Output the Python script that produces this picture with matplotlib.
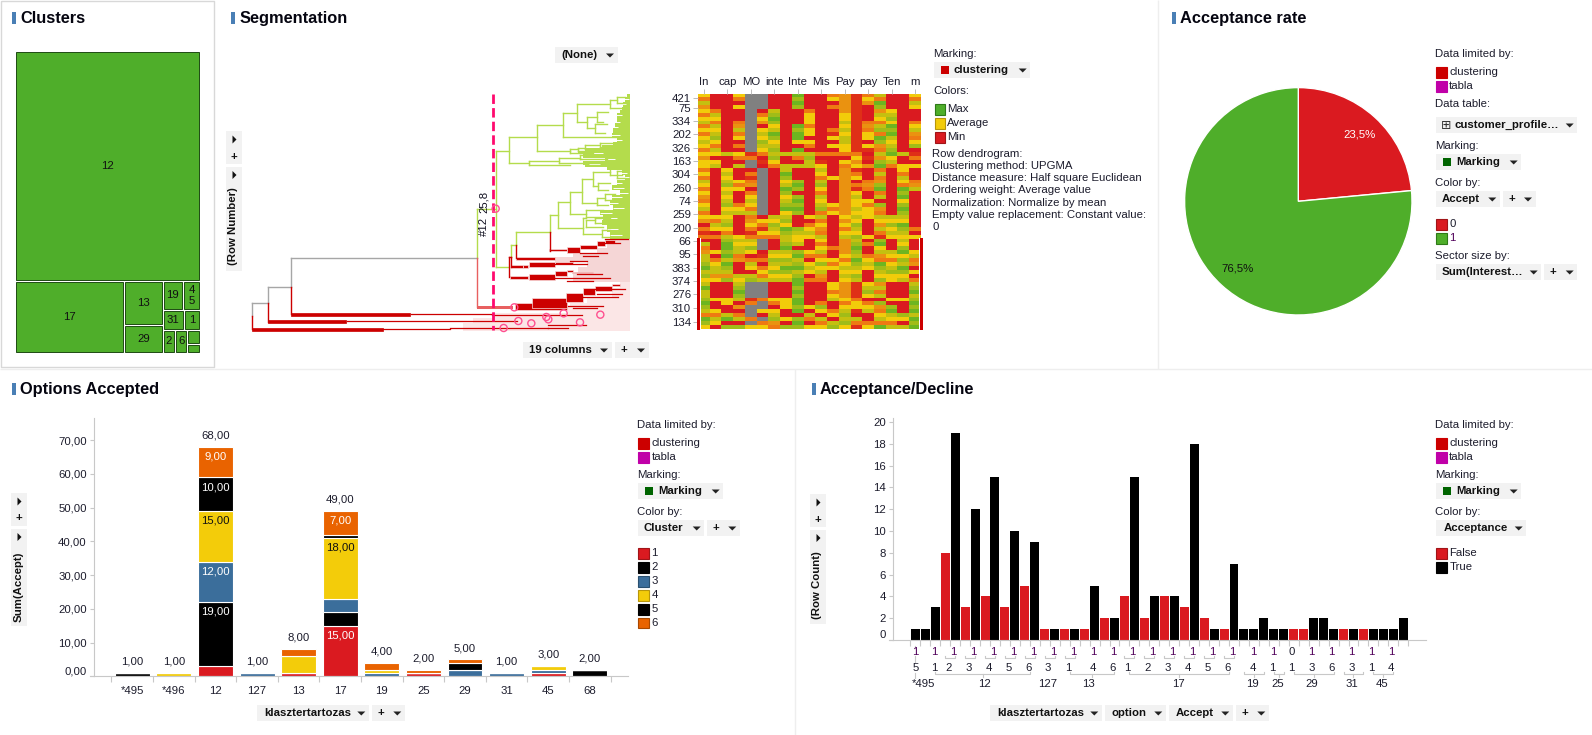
import matplotlib
matplotlib.use("Agg")
import matplotlib.pyplot as plt
import numpy as np
from matplotlib.colors import ListedColormap
from matplotlib.patches import Polygon, Rectangle

plt.rcParams['font.family'] = ['Liberation Sans', 'DejaVu Sans']
plt.rcParams['font.size'] = 8.2

W, H = 1592, 735
RED, BLACK, BLUE, YELLOW, ORANGE, GREEN = '#DA1A20', '#000000', '#3B6E9B', '#F3CC0A', '#E96300', '#4FAE2A'
TXT = '#1c1c2c'

# ---- treemap data
cluster_sizes = {'12': 3816, '17': 704, '13': 155, '29': 95, '19': 54, '45': 43, '31': 38,
                 '1': 28, '2': 26, '6': 25, 'a': 16, 'b': 10}
cluster_tree = ['12', ['17', ['13', '29'], [['19', '45'], ['31', '1'], ['2', '6', ['a', 'b']]]]]

# ---- heatmap data, one string per column, top row first
# R min, E red orange, o orange, D amber, Y yellow, L olive, l yellow green, G green, X empty
heat_cols = [
    "YoLDYoYLoY oYLYoYDYYo YoLYoYDoYL oYDRoEoRLo DLLlGLlYLG LLlGlLoGlY",
    "RRRRoLYoLY LlYoLYRYLR RRRRRRRRRR RYoLYRoRRR YRoYLLDYRR RRYRRYoLYR",
    "RRRRRRRRRR RRRRRLRRRY LYLlYLYLlY LYLlYoLlGG lGLGlLDlRR RRYYRRLGRl",
    "YoRYRRRoDL oYRoRYoRLR RRYoYRRRoY LRRRRRYLYL LoDRRRLYLl GlLRDRoLRl",
    "XXXXXXXXXX XXXXXEoXXR oEoDRoYLYo LoDYoEoLYl YRoLYRLlXX XXEoXXXoXY",
    "XXXXRoYDRY LYlLYoRERX XXXXXXXXXX XRYoEYoXXX REoRoYoLXX XXoXXYRXoY",
    "RRRRLlGlYL GlYLlLlYoR RRRRRRRRRR RLYlLYoRRR LYlLYlYLRR RRYoRYLlDo",
    "RRRRRRRRRR RRRRRLRRLL GlYLGlYLlG YLlYGlLLlG LYlLGlYLRR RRYYYRRYRl",
    "GlGlRRRRGl GGYRGLoRLR RRlGlRlGlG lRRRlLYYLR lGLlGLlGGl GlGGlGRlGl",
    "RRRRoYYYoY YRYoRLlLLR RRRRRRRRRR RYRoYLYRRR YoRYLYRoRR RRRRYRLoRY",
    "RRRRRRRRRR RRRRRoREYL YoLlYoLYLl oLoYDoLYoY LoYlYLDoRR RRRolYRLoY",
    "oYRoRRRRRo EYRYRoRRRR RYRRRRRRYo YRRRRRRRRo RRYoYRRRYY oYLRRoYRLl",
    "DDDDDYYLYL YLLYYoRYoD DDDDDDDDDD DYDYoYLDDD DYoYLYLYDD DDYoYLlLlY",
    "EEEEEEEEEE EEEEEoYDYE oYRoEYLYYL YLYlLYlLlG lLGlLYlLEE EEoYYERLoE",
    "oYDRRRRoDo YYRYERERDR RRoDoRRYoY YYRRRRYRoR RoYLYRRRYL lYRoYLRRoY",
    "LoGlDLYoLl oGlDoLDlGo LoDlGoLRlD oLYDLoElGY LDoGlLYlDL oLRlDoYLoG",
    "RRRRYLlYGl GLYLlGYLoR RRRRRRRRRR RLYlYLYRRR LYoYLlYYRR RRYRlGLYoL",
    "RRRRRRRRRR RRRRRLRRYY oLYoGlGYlG lLYGlLYLYl GYlLGlYLRR RRYRRRlYRL",
    "YoLYRRRoYL DoYlREoRYR RRoDLRRRRR RRRRoRYRRR YLoDRYRoLl GLlGlGLGlG",
]
heat_codes = 'REoDYLlGX'
heat_palette = ['#DA1A20', '#DF3017', '#EE7A12', '#EA9210', '#F2CC0A', '#C4C010', '#A0BC18', '#6DB520', '#808080']
heat_top_labels = ['In', 'cap', 'MO', 'inte', 'Inte', 'Mis', 'Pay', 'pay', 'Ten', 'm']
heat_row_labels = ['421', '75', '334', '202', '326', '163', '304', '260', '74', '259', '200',
                   '66', '95', '383', '374', '276', '310', '134']
heat_row_ticks = [1.0, 3.6, 6.9, 10.2, 13.7, 17.1, 20.4, 23.9, 27.3, 30.6, 34.1,
                  37.5, 40.9, 44.3, 47.7, 51.0, 54.5, 58.1]

# ---- dendrogram data: distance along x, row position along y
# links are (parent distance, upper row, lower row, upper child distance, lower child distance)
green_links = [
    (827, 332, 680, 868, 868), (868, 292, 368, 952, 928), (952, 256, 332, 1028, 1050),
    (1028, 220, 290, 1070, 1200), (1070, 193, 245, 1170, 1102), (1170, 180, 203, 1192, 1215),
    (1192, 172, 190, 1215, 1222), (1102, 230, 265, 1132, 1125), (1132, 215, 245, 1165, 1150),
    (1125, 252, 280, 1160, 1155), (1050, 328, 338, 1073, 1120), (1073, 325, 332, 1095, 1130),
    (1095, 315, 328, 1140, 1200), (1140, 310, 320, 1180, 1200), (928, 362, 375, 1018, 1050),
    (1018, 355, 368, 1080, 1160), (1080, 345, 358, 1130, 1160), (1015, 487, 565, 1051, 1090),
    (1051, 455, 523, 1085, 1098), (1085, 418, 488, 1120, 1130), (1120, 395, 438, 1170, 1135),
    (1170, 385, 405, 1190, 1205), (1190, 393, 415, 1215, 1215), (1135, 430, 450, 1170, 1165),
    (1098, 510, 530, 1150, 1160), (1130, 475, 495, 1155, 1165), (1155, 463, 480, 1185, 1200),
    (1090, 535, 582, 1098, 1145), (1098, 540, 560, 1125, 1150), (1145, 570, 592, 1170, 1190),
    (1125, 533, 550, 1170, 1180),
]
green_stems = [(770, 507, 827, 507), (770, 507, 770, 653), (989, 525, 1015, 525), (989, 525, 989, 577),
               (889, 577, 989, 577), (889, 577, 889, 615), (874, 615, 889, 615), (874, 615, 874, 650)]
grey_stems = [(97, 790, 145, 790), (97, 790, 97, 829), (145, 740, 145, 790), (145, 740, 212, 740),
              (212, 653, 212, 740), (212, 653, 770, 653)]
red_stems = [(97, 829, 97, 868), (145, 790, 145, 845), (212, 740, 212, 823), (989, 577, 989, 632),
             (889, 615, 889, 655), (874, 650, 874, 680), (868, 650, 868, 712), (868, 650, 874, 650)]
salmon_stems = [(770, 653, 770, 802)]
thin_reds = [(490, 690, 868), (690, 985, 865), (380, 890, 844), (572, 815, 823), (815, 1085, 826), (985, 1098, 855),
             (985, 1045, 865), (1045, 1150, 798), (1060, 1130, 805), (1090, 1195, 772), (1125, 1215, 748),
             (1130, 1205, 762), (1005, 1100, 673), (1050, 1100, 664), (1080, 1160, 640), (1090, 1135, 647),
             (1005, 1170, 713), (1070, 1145, 703), (1040, 1120, 722), (1155, 1225, 598), (1150, 1200, 610)]
block_left = [97, 145, 212, 885, 935, 1037, 1090, 1125, 1175, 988, 1040, 1080, 1130, 1155,
              889, 873, 910, 926, 1005, 870, 926, 1005, 1040, 1055]
block_right = [490, 378, 570, 1040, 1040, 1090, 1125, 1175, 1200, 1040, 1080, 1130, 1155, 1185,
               1005, 910, 925, 1005, 1060, 925, 1005, 1040, 1060, 1120]
block_row = [868, 845, 823, 800, 788, 772, 755, 745, 735, 631, 629, 620, 611, 604,
             655, 679, 679, 673, 668, 712, 711, 700, 692, 697]
block_thick = [8, 8, 8, 22, 30, 26, 20, 16, 6, 7, 18, 12, 15, 8, 8, 8, 10, 15, 5, 8, 18, 14, 5, 5]
mass_rows = [162, 172, 185, 200, 210, 220, 235, 250, 265, 280, 295, 305, 315, 323, 335, 343, 353, 363, 375, 381,
             390, 405, 420, 435, 450, 465, 480, 495, 510, 525, 540, 555, 575, 597]
mass_left = [1220, 1215, 1210, 1205, 1200, 1192, 1190, 1185, 1180, 1175, 1190, 1180, 1145, 1095, 1075, 1090, 1155,
             1090, 1095, 1160, 1205, 1215, 1190, 1175, 1200, 1175, 1170, 1180, 1140, 1150, 1145, 1160, 1170, 1185]
slit_rows = [178, 192, 205, 226, 245, 262, 284, 300, 322, 340, 358, 372, 398, 412, 428, 444, 458, 472, 490, 505,
             520, 535, 548, 566, 586]
slit_to = [1226, 1218, 1212, 1205, 1200, 1195, 1200, 1205, 1175, 1150, 1185, 1140, 1222, 1226, 1205, 1212, 1225,
           1205, 1195, 1212, 1175, 1190, 1180, 1195, 1205]
pink_rows = [597, 610, 625, 640, 650, 665, 680, 700, 725]
pink_left = [1185, 1160, 1130, 1060, 1005, 1100, 1075, 1060, 1005]
pale_rows = [727, 745, 770, 790, 800, 820, 835, 850, 873]
pale_left = [1200, 1175, 1100, 1050, 1045, 820, 760, 730, 690]
marker_dist = [827, 883, 1031, 979, 985, 895, 934, 851, 1080, 1141]
marker_row = [506, 802, 820, 831, 838, 843, 850, 864, 847, 824]

# ---- pie data
pie_values = [23.5, 76.5]

# ---- stacked bar data, bottom to top: cluster 1, 2, 3, 4, 5, 6
option_cats = ['*495', '*496', '12', '127', '13', '17', '19', '25', '29', '31', '45', '68']
opt_c1 = [0, 0, 3, 0, 1, 15, 0, 1, 0, 0, 1, 0]
opt_c2 = [1, 0, 19, 0, 0, 4, 0, 0, 0, 0, 0, 2]
opt_c3 = [0, 0, 12, 1, 0, 4, 1, 0, 2, 1, 1, 0]
opt_c4 = [0, 1, 15, 0, 5, 18, 1, 0, 0, 0, 1, 0]
opt_c5 = [0, 0, 10, 0, 0, 1, 0, 0, 2, 0, 0, 0]
opt_c6 = [0, 0, 9, 0, 2, 7, 2, 1, 1, 0, 0, 0]
opt_colors = [RED, BLACK, BLUE, YELLOW, BLACK, ORANGE]

# ---- grouped bar data
decline_counts = [1, 1, 3, 8, 19, 3, 12, 4, 15, 3, 10, 5, 9, 1, 1, 1, 1, 1, 5, 2, 2, 4, 15, 2, 4, 4, 4, 3, 18, 2,
                  1, 1, 7, 1, 1, 2, 1, 1, 1, 1, 2, 2, 1, 1, 1, 1, 1, 1, 1, 2]
decline_flag = list("TTTFTFTFTFTFTFTFTFTFTFTFTFTFTFT" "FT" "TTTTTFFTTTFTFTTTT")
level1_text = list("1111111111111111111" "0" "11111")
level1_pos = [0, 1.87, 3.85, 5.86, 7.86, 9.87, 11.88, 13.82, 15.83, 17.84, 19.85, 21.8, 23.8, 25.8, 27.8, 29.85,
              31.86, 33.9, 35.9, 37.8, 39.8, 41.8, 43.8, 45.8, 47.8]
level2_text = list("5123456314612345641136314")
level2_pos = [0, 1.87, 3.35, 5.36, 7.36, 9.37, 11.38, 13.32, 15.33, 17.84, 19.85, 21.32, 23.33, 25.34, 27.35, 29.36,
              31.37, 33.87, 35.87, 37.8, 39.8, 41.8, 43.8, 45.8, 47.8]
level3_text = ['*495', '12', '127', '13', '17', '19', '25', '29', '31', '45']
level3_pos = [0.8, 6.9, 13.3, 17.4, 26.4, 33.9, 36.4, 39.8, 43.8, 46.9]
pair_starts = [3, 5, 7, 9, 11, 13, 15, 21, 23, 25, 27, 29, 31]
group_from = [2, 15.5, 21.5, 33, 36, 38, 43, 46]
group_to = [11.5, 20, 31.5, 35, 37, 42, 45, 48]


def ax_px(x0, y0, x1, y1, **kw):
    return fig.add_axes([x0 / W, 1 - y1 / H, (x1 - x0) / W, (y1 - y0) / H], **kw)


def label(x, y, s, **kw):
    kw.setdefault('va', 'center')
    kw.setdefault('color', TXT)
    bg.text(x, y, s, **kw)


def arrow(x, y):
    bg.add_patch(Polygon([(x - 4, y - 2), (x + 4, y - 2), (x, y + 2)], color='#222222', lw=0))


def right_arrow(x, y):
    bg.add_patch(Polygon([(x - 2, y - 4), (x - 2, y + 4), (x + 2, y)], color='#111111', lw=0))


def button(x0, x1, y0, text, tx, ax_x, swatch=None):
    bg.add_patch(Rectangle((x0, y0), x1 - x0, 16, color='#F2F2F2', lw=0))
    if swatch:
        bg.add_patch(Rectangle((x0 + 7, y0 + 4), 8, 8, color=swatch, lw=0))
    label(tx, y0 + 8, text, fontweight='bold', color='#111111')
    arrow(ax_x, y0 + 8.5)


def plus_button(x0, x1, y0, px, ax_x):
    bg.add_patch(Rectangle((x0, y0), x1 - x0, 16, color='#F2F2F2', lw=0))
    label(px, y0 + 8, '+', fontweight='bold', ha='center', color='#111111')
    arrow(ax_x, y0 + 8.5)


def swatch(x, y, color, edge=None):
    bg.add_patch(Rectangle((x, y - 5.3), 10.6, 10.6, facecolor=color, edgecolor=edge or color, lw=0.8))


def side_controls(x0, y0, y1, text, ty):
    bg.add_patch(Rectangle((x0, y0), 16, 33, color='#F2F2F2', lw=0))
    bg.add_patch(Rectangle((x0, y0 + 36), 16, y1 - y0 - 36, color='#F2F2F2', lw=0))
    right_arrow(x0 + 8.5, y0 + 8.5)
    label(x0 + 7.5, y0 + 25.5, '+', fontweight='bold', ha='center', color='#111111')
    right_arrow(x0 + 8.5, y0 + 44)
    label(x0 + 7.5, ty, text, fontweight='bold', rotation=90, ha='center', color='#111111')


def title(x, y, s, tx):
    bg.add_patch(Rectangle((x, y - 6), 4, 12, color='#4A7FB5', lw=0))
    label(tx, y, s, fontweight='bold', fontsize=11.8, color='#050510')


def walk_tree(node, x, y, w, h, across, out):
    if isinstance(node, str):
        out.append((node, x, y, w, h))
        return
    sizes = [tree_size(c) for c in node]
    pos = 0.0
    for child, sz in zip(node, sizes):
        part = sz / sum(sizes)
        if across:
            walk_tree(child, x + pos * w, y, part * w, h, False, out)
        else:
            walk_tree(child, x, y + pos * h, w, part * h, True, out)
        pos += part


def tree_size(node):
    if isinstance(node, str):
        return cluster_sizes[node]
    return sum(tree_size(c) for c in node)


def link_segments(links):
    segs = []
    for xp, y0, y1, x0, x1 in links:
        segs.append(([xp, xp], [y0, y1]))
        segs.append(([xp, x0], [y0, y0]))
        segs.append(([xp, x1], [y1, y1]))
    return segs


fig = plt.figure(figsize=(W / 100, H / 100), dpi=100, facecolor='white')
bg = fig.add_axes([0, 0, 1, 1])
bg.set_xlim(0, W)
bg.set_ylim(H, 0)
bg.axis('off')

# panel frames
for xs, ys, c in [([0.5, 214, 214, 0.5, 0.5], [0.5, 0.5, 367, 367, 0.5], '#D8D8D8'),
                  ([214, W], [369, 369], '#EEEEEE'), ([0, 214], [369, 369], '#EEEEEE'),
                  ([1158, 1158], [0, 369], '#EEEEEE'), ([795, 795], [369, H], '#EEEEEE')]:
    bg.plot(xs, ys, color=c, lw=1.0, solid_capstyle='butt')

title(12, 18, 'Clusters', 20.3)
title(230.5, 18, 'Segmentation', 240)
title(1171.5, 18, 'Acceptance rate', 1180.5)
title(12, 389, 'Options Accepted', 20.3)
title(812, 389, 'Acceptance/Decline', 819.5)

# ---- clusters treemap
tm = ax_px(15.3, 51, 199.7, 352.7)
tm.set_xlim(0, 184.4)
tm.set_ylim(301.7, 0)
tm.axis('off')
cells = []
walk_tree(cluster_tree, 0, 0, 184.4, 301.7, False, cells)
for name, x, y, w, h in cells:
    tm.add_patch(Rectangle((x + 0.9, y + 0.9), w - 1.8, h - 1.8, facecolor=GREEN, edgecolor='#1E4A14', lw=0.7))
    if name in ('a', 'b'):
        continue
    tm.text(x + w / 2, y + h / 2, '4\n5' if name == '45' else name, ha='center', va='center', color='#111111',
            linespacing=1.05)

# ---- dendrogram
LIME = '#B4DC4C'
de = ax_px(220, 40, 640, 360)
de.set_xlim(0, 1260)
de.set_ylim(960, 0)
de.axis('off')
de.fill_betweenx(mass_rows, mass_left, 1230, color=LIME, lw=0, step='post')
de.hlines(slit_rows, np.array(slit_to) - 34, slit_to, color='white', lw=0.7)
de.fill_betweenx(pink_rows, pink_left, 1230, color='#F5D6D6', lw=0, step='post')
de.fill_betweenx(pale_rows, pale_left, 1230, color='#FBE6E6', lw=0, step='post')
for xs, ys in link_segments(green_links):
    de.plot(xs, ys, color=LIME, lw=1.0, solid_capstyle='projecting')
for stems, col in [(green_stems, LIME), (grey_stems, '#A6A6A6'), (red_stems, '#CC0000'),
                   (salmon_stems, '#E86060')]:
    for x0, y0, x1, y1 in stems:
        de.plot([x0, x1], [y0, y1], color=col, lw=1.0, solid_capstyle='projecting')
for x0, x1, y in thin_reds:
    de.plot([x0, x1], [y, y], color='#CC0000', lw=0.9)
block_edges = ['#CC0000' if i < 3 else '#F8DCDC' for i in range(len(block_row))]
de.barh(block_row, np.array(block_right) - np.array(block_left), left=block_left, height=block_thick,
        color='#CC0000', edgecolor=block_edges, lw=0.5)
de.barh([802], [110], left=[770], height=[8], color='#E86060', lw=0)
de.plot([820, 820], [162, 870], color='#FF0A6E', lw=2.0, ls=(0, (3.4, 1.5)))
de.scatter(marker_dist, marker_row, s=26, facecolor='none', edgecolor='#FF5090', lw=1.0, zorder=5)
de.text(793, 560, '#12', rotation=90, ha='center', va='center', color='#101020')
de.text(793, 485, '25,8', rotation=90, ha='center', va='center', color='#101020')

button(555, 618, 47, '(None)', 561, 610)
button(523, 612, 342, '19 columns', 529, 604)
plus_button(615, 649, 342, 624, 641)
side_controls(226, 131, 270.7, '(Row Number)', 226.5)

# ---- heatmap
heat_matrix = np.array([[heat_codes.index(c) for c in col.replace(' ', '')] for col in heat_cols]).T
hm = ax_px(698, 94, 921, 329.3)
hm.imshow(heat_matrix, cmap=ListedColormap(heat_palette), vmin=-0.5, vmax=8.5, aspect='auto',
          interpolation='nearest', extent=(0, 19, 60, 0))
hm.xaxis.tick_top()
hm.set_xticks(np.arange(0.5, 19, 2), heat_top_labels)
hm.set_yticks(heat_row_ticks, heat_row_labels)
hm.tick_params(axis='both', length=3.5, width=0.7, color='#BBBBBB', labelcolor=TXT, labelsize=8.2, pad=1.5)
for sp in hm.spines.values():
    sp.set_visible(False)

label(933, 54, 'Marking:')
button(934, 1030, 62, 'clustering', 954, 1022.7, swatch='#CC0000')
label(933, 91, 'Colors:')
for yy, name, c, e in [(109.3, 'Max', GREEN, '#2E7A18'), (123.3, 'Average', YELLOW, '#B8960A'),
                       (137.3, 'Min', RED, '#A01418')]:
    swatch(934.5, yy, c, e)
    label(947.3, yy, name)
dendro_notes = ['Row dendrogram:', 'Clustering method: UPGMA', 'Distance measure: Half square Euclidean',
                'Ordering weight: Average value', 'Normalization: Normalize by mean',
                'Empty value replacement: Constant value:', '0']
for yy, line in zip([154.3, 166.3, 178.3, 190.3, 203, 215, 227], dendro_notes):
    label(932.3, yy, line)

# ---- pie
pa = ax_px(1298.3 - 113.7, 201.3 - 113.7, 1298.3 + 113.7, 201.3 + 113.7)
wedges, _, pct = pa.pie(pie_values, colors=[RED, GREEN], startangle=90, counterclock=False, radius=1,
                        wedgeprops={'edgecolor': 'white', 'linewidth': 1.0},
                        autopct=lambda v: f'{v:.1f}%'.replace('.', ','), pctdistance=0.8, frame=True)
pa.set_xlim(-1, 1)
pa.set_ylim(-1, 1)
pa.axis('off')
pct[0].set_color('white')
pct[1].set_color('#111111')

label(1435.3, 54, 'Data limited by:')
swatch(1436.3, 72.3, '#CC0000')
label(1449.3, 72.3, 'clustering')
swatch(1436.3, 86.3, '#C000A8')
label(1449.3, 86.3, 'tabla')
label(1435.3, 104, 'Data table:')
button(1436, 1577, 117, 'customer_profile…', 1454.3, 1569.7)
bg.text(1446, 125, '⊞', family='DejaVu Sans', fontsize=9, ha='center', va='center', color='#333333')
label(1435.3, 146, 'Marking:')
button(1436, 1521, 154, 'Marking', 1456, 1513.7, swatch='#006400')
label(1435.3, 183.3, 'Color by:')
button(1436, 1500, 191, 'Accept', 1442, 1492.3)
plus_button(1503, 1536, 191, 1512, 1528)
swatch(1436.3, 224.3, RED, '#A01418')
label(1449.3, 224.3, '0')
swatch(1436.3, 238.3, GREEN, '#2E7A18')
label(1449.3, 238.3, '1', color='#50005a')
label(1435.3, 256, 'Sector size by:')
button(1436, 1541, 264, 'Sum(Interest…', 1442, 1533.7)
plus_button(1544, 1577, 264, 1553, 1569.7)

# ---- options accepted
oa = ax_px(94.3, 418, 628, 676.3)
oa.set_xlim(-0.913, 11.92)
oa.set_ylim(0, 76.6)
oa.patch.set_alpha(0)
base = np.zeros(len(option_cats))
opt_series = [opt_c1, opt_c2, opt_c3, opt_c4, opt_c5, opt_c6]
opt_x = np.arange(len(option_cats))
for vals, col in zip(opt_series, opt_colors):
    vals = np.array(vals)
    oa.bar(opt_x, vals, bottom=base, width=0.84, color=col, edgecolor='white', lw=0.8)
    for i, v in enumerate(vals):
        if v >= 7:
            oa.annotate(f'{v},00', (i, base[i] + v), xytext=(0, -7), textcoords='offset points', ha='center',
                        va='center', color='#111111' if col == YELLOW else 'white')
    base = base + vals
for i, total in enumerate(base):
    oa.annotate(f'{int(total)},00', (i, total), xytext=(0, 8.2), textcoords='offset points', ha='center',
                va='center', color=TXT)
oa.set_yticks(np.arange(0, 71, 10), [f'{v},00' for v in range(0, 71, 10)])
oa.get_yticklabels()[0].set_va('bottom')
oa.set_xticks(opt_x, option_cats)
oa.set_xticks(np.arange(-0.5, 12, 1), minor=True)
oa.tick_params(axis='x', which='major', length=0, pad=7, labelsize=8.2, labelcolor=TXT)
oa.tick_params(axis='x', which='minor', length=4.3, width=0.8, color='#C8C8C8')
oa.tick_params(axis='y', length=3, width=0.8, color='#C8C8C8', pad=2.5, labelsize=8.2, labelcolor=TXT)
oa.spines[['top', 'right']].set_visible(False)
oa.spines[['left', 'bottom']].set_color('#C8C8C8')
bg.plot([90, 94.3], [676.3, 676.3], color='#C8C8C8', lw=0.8)

button(257, 369, 705, 'klasztertartozas', 264, 361.3)
plus_button(372, 405, 705, 381.3, 397.3)
side_controls(11, 493, 626, 'Sum(Accept)', 586.7)

label(637.3, 425, 'Data limited by:')
swatch(638.3, 443.3, '#CC0000')
label(651.7, 443.3, 'clustering')
swatch(638.3, 457.3, '#C000A8')
label(651.7, 457.3, 'tabla')
label(637.3, 475, 'Marking:')
button(638, 723, 483, 'Marking', 658.3, 715.7, swatch='#006400')
label(637.3, 512, 'Color by:')
button(638, 704, 520, 'Cluster', 644, 696.7)
plus_button(707, 740, 520, 716, 732.3)
for yy, name, c, e in zip([553.3, 567.3, 581.3, 595.3, 609.3, 623], '123456', opt_colors,
                          ['#A01418', '#000000', '#2A5070', '#B8960A', '#000000', '#A84800']):
    swatch(638.3, yy, c, e)
    label(651.3, yy, name)

# ---- acceptance / decline
ad = ax_px(893.3, 418.3, 1425.7, 640)
ad.set_xlim(-2.21, 51.25)
ad.set_ylim(0, 20.34)
ad.patch.set_alpha(0)
bar_x = np.arange(len(decline_counts))
ad.bar(bar_x, decline_counts, width=0.9, color=[RED if f == 'F' else BLACK for f in decline_flag], lw=0)
ad.set_yticks(np.arange(0, 21, 2))
ad.get_yticklabels()[0].set_va('bottom')
ad.set_xticks([])
ad.set_xticks(np.arange(-0.5, 50, 1), minor=True)
ad.tick_params(axis='x', which='minor', length=4.3, width=0.8, color='#C8C8C8')
ad.tick_params(axis='y', length=3, width=0.8, color='#C8C8C8', pad=2.5, labelsize=8.2, labelcolor=TXT)
ad.spines[['top', 'right']].set_visible(False)
ad.spines[['left', 'bottom']].set_color('#C8C8C8')
bg.plot([889, 893.3], [640, 640], color='#C8C8C8', lw=0.8)

tr = ad.get_xaxis_transform()


def fy(py):
    return (640 - py) / 221.7


for p, t in zip(level1_pos, level1_text):
    ad.text(p, fy(652.3), t, transform=tr, ha='center', va='center', clip_on=False,
            color='#50005a' if t == '1' else TXT)
for p, t in zip(level2_pos, level2_text):
    ad.text(p, fy(667.7), t, transform=tr, ha='center', va='center', clip_on=False, color=TXT)
for p, t in zip(level3_pos, level3_text):
    ad.text(p, fy(684), t, transform=tr, ha='center', va='center', clip_on=False, color=TXT)
for s in pair_starts:
    ad.plot([s, s, s + 1, s + 1], [fy(656), fy(658.3), fy(658.3), fy(656)], transform=tr, color='#C8C8C8',
            lw=0.8, clip_on=False)
for a, b in zip(group_from, group_to):
    ad.plot([a, a, b, b], [fy(672), fy(674.3), fy(674.3), fy(672)], transform=tr, color='#C8C8C8', lw=0.8,
            clip_on=False)
    ad.plot([(a + b) / 2] * 2, [fy(674.3), fy(677)], transform=tr, color='#C8C8C8', lw=0.8, clip_on=False)
for y0, y1 in [(646, 647.5), (656, 662), (673, 678)]:
    ad.plot([0, 0], [fy(y0), fy(y1)], transform=tr, color='#C8C8C8', lw=0.8, clip_on=False)

button(990, 1102, 705, 'klasztertartozas', 997.3, 1094.3)
button(1105, 1166, 705, 'option', 1111.3, 1158.3)
button(1169, 1233, 705, 'Accept', 1175.3, 1225.3)
plus_button(1236, 1269, 705, 1245, 1261.3)
side_controls(810, 494, 623.7, '(Row Count)', 585)

label(1435, 425, 'Data limited by:')
swatch(1436.3, 443.3, '#CC0000')
label(1449.3, 443.3, 'clustering')
swatch(1436.3, 457.3, '#C000A8')
label(1449.3, 457.3, 'tabla')
label(1435, 475, 'Marking:')
button(1436, 1521, 483, 'Marking', 1456, 1513.7, swatch='#006400')
label(1435, 512, 'Color by:')
button(1436, 1526, 520, 'Acceptance', 1443.3, 1518.7)
swatch(1436.3, 553.3, RED, '#A01418')
label(1449.3, 553.3, 'False')
swatch(1436.3, 567.3, BLACK)
label(1449.3, 567.3, 'True')

# selection bars either side of the lower heatmap rows
top = fig.add_axes([0, 0, 1, 1])
top.set_xlim(0, W)
top.set_ylim(H, 0)
top.axis('off')
top.add_patch(Rectangle((697, 238), 3, 91.5, color='#CC0000', lw=0))
top.add_patch(Rectangle((700, 238), 1, 91.5, color='white', lw=0))
top.add_patch(Rectangle((918.7, 238), 1, 91.5, color='white', lw=0))
top.add_patch(Rectangle((919.7, 238), 3.3, 91.5, color='#CC0000', lw=0))

fig.savefig('out.png', dpi=100)
